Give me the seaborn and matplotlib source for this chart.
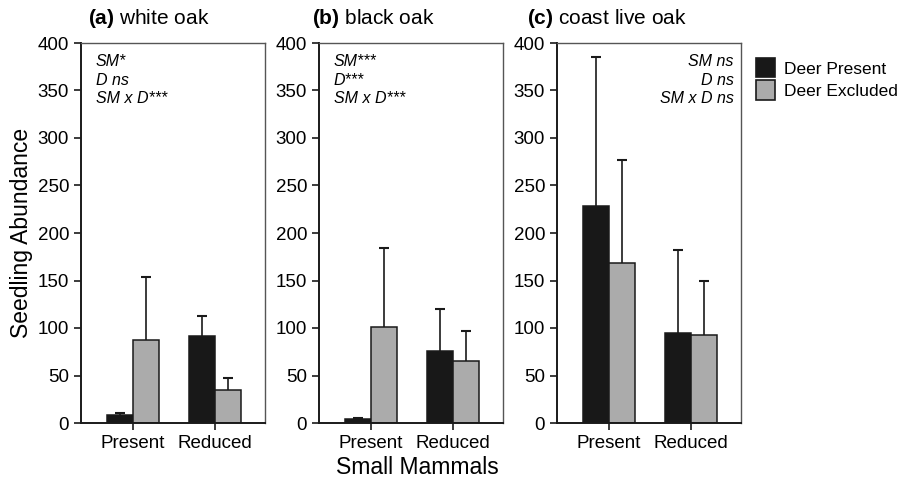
import matplotlib
matplotlib.use("Agg")
import matplotlib.pyplot as plt
import seaborn as sns
import pandas as pd
import numpy as np
from matplotlib.patches import Patch

sns.set_style("ticks")
plt.rcParams['font.family'] = ['Liberation Sans', 'DejaVu Sans']
plt.rcParams['mathtext.fontset'] = 'custom'
plt.rcParams['mathtext.bf'] = 'Liberation Sans:bold'
plt.rcParams['mathtext.rm'] = 'Liberation Sans'
plt.rcParams['text.color'] = 'black'
plt.rcParams['xtick.color'] = 'black'
plt.rcParams['ytick.color'] = 'black'
plt.rcParams['axes.labelcolor'] = 'black'

mammals = ["Present", "Reduced"]
deer = ["Deer Present", "Deer Excluded"]
panels = ["white oak", "black oak", "coast live oak"]
letters = ["(a)", "(b)", "(c)"]

# means [deer present (Present, Reduced)], [deer excluded (Present, Reduced)]
white_present = [8, 92]
white_excluded = [87, 35]
white_present_top = [11, 113]
white_excluded_top = [154, 47]

black_present = [4, 76]
black_excluded = [101, 65]
black_present_top = [5, 120]
black_excluded_top = [184, 97]

coast_present = [228, 95]
coast_excluded = [168, 93]
coast_present_top = [385, 182]
coast_excluded_top = [277, 150]

stats = [["SM*", "D ns", "SM x D***"],
         ["SM***", "D***", "SM x D***"],
         ["SM ns", "D ns", "SM x D ns"]]

yticks = [0, 50, 100, 150, 200, 250, 300, 350, 400]

means = [(white_present, white_excluded), (black_present, black_excluded), (coast_present, coast_excluded)]
tops = [(white_present_top, white_excluded_top), (black_present_top, black_excluded_top),
        (coast_present_top, coast_excluded_top)]

colors = {"Deer Present": "#181818", "Deer Excluded": "#ababab"}

fig = plt.figure(figsize=(9.11, 4.86), dpi=100)
lefts = [81 / 911, 319 / 911, 557 / 911]
W = 184 / 911
B = 1 - 423 / 486
H = (423 - 43) / 486
title_x = [88, 312, 527]

for i in range(3):
    ax = fig.add_axes([lefts[i], B, W, H])
    rows = []
    for d, vals in zip(deer, means[i]):
        for m, v in zip(mammals, vals):
            rows.append({"mammals": m, "deer": d, "abundance": v})
    df = pd.DataFrame(rows)
    sns.barplot(data=df, x="mammals", y="abundance", hue="deer", hue_order=deer,
                order=mammals, palette=colors, edgecolor="#1a1a1a", linewidth=1.1,
                width=0.634, gap=0, errorbar=None, legend=False, ax=ax, saturation=1)
    for cont, tp in zip(ax.containers, tops[i]):
        xs = [p.get_x() + p.get_width() / 2 for p in cont.patches]
        hs = [p.get_height() for p in cont.patches]
        ax.vlines(xs, hs, tp, color="#1a1a1a", linewidth=1.2, zorder=0)
        ax.plot(xs, tp, marker="_", markersize=7, markeredgewidth=1.5, linestyle="none",
                color="#1a1a1a", zorder=0)
    ax.set_ylim(0, 400)
    ax.set_xlim(-0.634, 1.61)
    ax.set_yticks(yticks)
    ax.set_xticks(range(len(mammals)), mammals)
    ax.set_xlabel("")
    ax.set_ylabel("")
    ax.tick_params(axis="both", labelsize=13.5, direction="out", length=5, width=1.2,
                   color="#1a1a1a", labelcolor="black", bottom=True, left=True)
    for s in ax.spines.values():
        s.set_visible(True)
        s.set_color("#555555")
        s.set_linewidth(1.0)
    ax.spines["left"].set_color("#1a1a1a")
    ax.spines["bottom"].set_color("#1a1a1a")
    ax.spines["left"].set_linewidth(1.4)
    ax.spines["bottom"].set_linewidth(1.4)
    fig.text(title_x[i] / 911, 1 - 18 / 486, r"$\bf{" + letters[i] + r"}$ " + panels[i],
             fontsize=15, ha="left", va="center", color="black")
    if i < 2:
        for k, s in enumerate(stats[i]):
            ax.text(0.08, 0.95 - k * 0.048, s, transform=ax.transAxes, fontsize=11.5,
                    fontstyle="italic", ha="left", va="center", color="black")
    else:
        for k, s in enumerate(stats[i]):
            ax.text(0.96, 0.95 - k * 0.048, s, transform=ax.transAxes, fontsize=11.5,
                    fontstyle="italic", ha="right", va="center", color="black")

fig.text(22 / 911, 0.5 + 10 / 486, "Seedling Abundance", rotation=90, fontsize=16.5,
         ha="center", va="center", color="black")
fig.text(417 / 911, 1 - 467 / 486, "Small Mammals", fontsize=16.5, ha="center", va="center",
         color="black")

handles = [Patch(facecolor=colors[d], edgecolor="#1a1a1a", linewidth=1.2, label=d) for d in deer]
fig.legend(handles=handles, loc="upper left", bbox_to_anchor=(756 / 911, 1 - 58 / 486), frameon=False,
           fontsize=12.5, handlelength=1.1, handleheight=1.35, handletextpad=0.5, labelspacing=0.15,
           borderpad=0, borderaxespad=0)

fig.savefig("out.png", dpi=100)
